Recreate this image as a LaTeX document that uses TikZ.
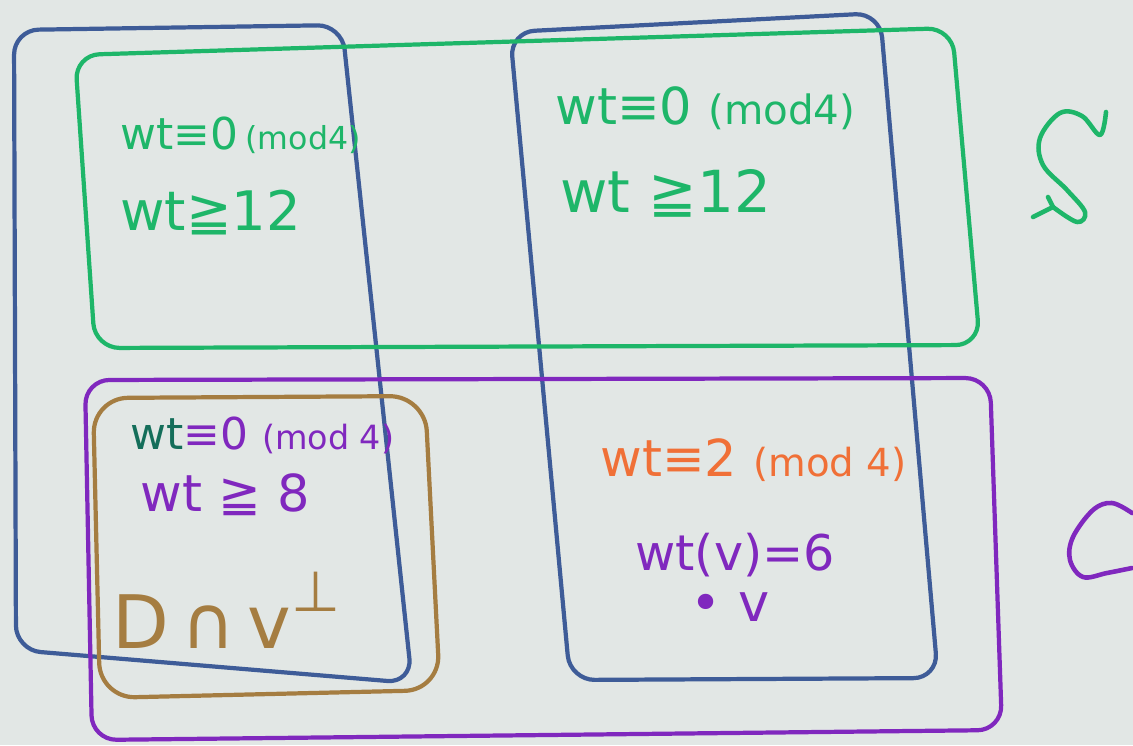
\documentclass[tikz,border=0pt]{standalone}
\usepackage{fontspec}
\setmainfont{DejaVu Sans}
\definecolor{bgc}{RGB}{226,231,229}
\definecolor{bluec}{RGB}{62,92,152}
\definecolor{greenc}{RGB}{30,182,105}
\definecolor{purplec}{RGB}{128,40,190}
\definecolor{brownc}{RGB}{165,125,65}
\definecolor{orangec}{RGB}{240,112,55}
\definecolor{tealc}{RGB}{20,110,90}
\begin{document}
\begin{tikzpicture}[x=0.02cm,y=-0.02cm,line join=round,line cap=round,
  pen/.style={line width=2.4pt,rounded corners=14pt},
  hand/.style={inner sep=0pt,anchor=west,font=\fontsize{25}{30}\selectfont},
  big/.style={hand,font=\fontsize{29}{34}\selectfont}]
\fill[bgc] (0,0) rectangle (1133,745);
\useasboundingbox (0,0) rectangle (1133,745);
% blue sets
\draw[pen,bluec] (14,30) -- (342,25) -- (412,683) -- (16,650) -- cycle;
\draw[pen,bluec] (510,32) -- (880,13) -- (938,678) -- (570,680) -- cycle;
% green set
\draw[pen,greenc] (75,55) -- (952,28) -- (980,345) -- (95,348) -- cycle;
% purple set
\draw[pen,purplec] (85,380) -- (990,378) -- (1002,730) -- (92,740) -- cycle;
% brown set
\draw[pen,brownc,rounded corners=20pt] (93,398) -- (425,396) -- (440,690) -- (100,698) -- cycle;
% S label
\draw[greenc,line width=2.6pt] plot[smooth,tension=0.6] coordinates {(1106,112) (1100,135) (1082,116) (1060,113) (1040,138) (1043,165) (1067,190) (1085,212) (1077,222) (1053,207)};
\draw[greenc,line width=2.6pt] (1048,197) -- (1053,207) -- (1033,217);
% C label
\draw[purplec,line width=2.6pt] plot[smooth,tension=0.6] coordinates {(1132,513) (1112,503) (1093,510) (1073,537) (1070,560) (1083,577) (1107,573) (1132,568)};
% texts
\node[hand,greenc] (t1) at (120,135) {wt≡0\,{\fontsize{18}{22}\selectfont (mod4)}};
\node[hand,greenc,font=\fontsize{31}{36}\selectfont] (t2) at (120,213) {wt≧12};
\node[big,greenc] (t3) at (555,108) {wt≡0 {\fontsize{23}{26}\selectfont (mod4)}};
\node[big,greenc,font=\fontsize{33}{38}\selectfont] (t4) at (560,193) {wt ≧12};
\node[hand,purplec] (t5) at (130,435) {\textcolor{tealc}{wt}≡0 {\fontsize{19}{22}\selectfont (mod 4)}};
\node[hand,purplec,font=\fontsize{29}{34}\selectfont] (t6) at (140,495) {wt ≧ 8};
\node[inner sep=0pt,anchor=west,brownc,font=\fontsize{42}{48}\selectfont] (t7) at (112,610) {D\,∩\,v\raisebox{0.5em}{\fontsize{32}{36}\selectfont ⊥}};
\node[big,orangec] (t8) at (600,460) {wt≡2 {\fontsize{22}{26}\selectfont (mod 4)}};
\node[big,purplec,font=\fontsize{28}{33}\selectfont] (t9) at (635,555) {wt(v)=6};
\node[big,purplec,font=\fontsize{30}{35}\selectfont] (t10) at (690,607) {• v};
\end{tikzpicture}
\end{document}
